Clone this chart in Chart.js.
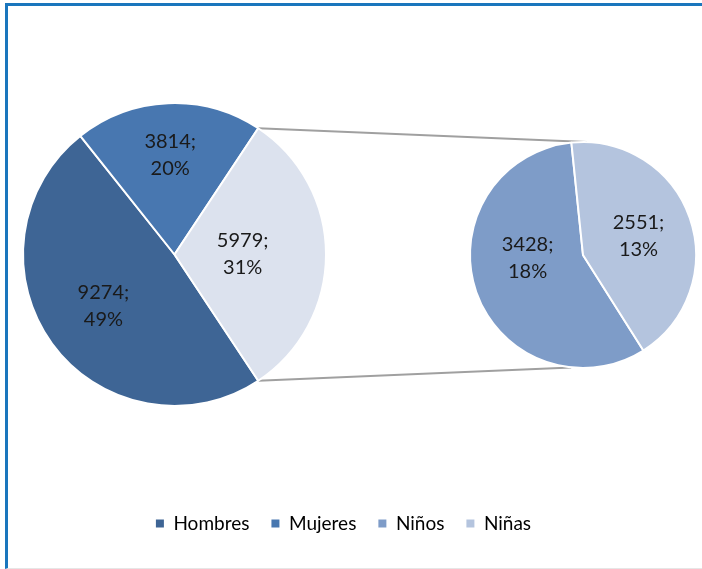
<!DOCTYPE html>
<html><head><meta charset="utf-8">
<script src="https://cdn.jsdelivr.net/npm/chart.js@4/dist/chart.umd.min.js"></script>
<style>
html,body{margin:0;padding:0;background:#fff;}
#frame{position:absolute;left:5px;top:3px;width:697px;height:566px;border-top:3px solid #1a76bd;border-left:3px solid #1a76bd;border-bottom:1px solid #e6e6e6;box-sizing:border-box;}
#wrap{position:absolute;left:0;top:0;right:0;bottom:0;}
</style></head><body>
<div id="frame"><div id="wrap"><canvas id="c"></canvas></div></div>
<script>
// ---- data ----
const mainLabels = ['Hombres', 'Mujeres', 'Otros'];
const mainValues = [9274, 3814, 5979];
const childLabels = ['Niños', 'Niñas'];
const childValues = [3428, 2551];
const legendLabels = ['Hombres', 'Mujeres', 'Niños', 'Niñas'];

// ---- style ----
const mainColors = ['#3e6595', '#4877b0', '#dce2ee'];
const childColors = ['#7e9cc8', '#b4c4de'];
const legendColors = ['#3e6595', '#4877b0', '#7e9cc8', '#b4c4de'];
const geometry = [
  { x: 166.5, y: 248.5, r: 151.5, labelR: [0.58, 0.66, 0.45], nudge: [[0, 0], [0, 0], [0, 0]] },
  { x: 575, y: 249, r: 113, labelR: [0.50, 0.52], nudge: [[-2, -15], [0, 0]] }
];
const textColor = '#1a1a1a';
const labelFont = '20px Lato';

const total = mainValues.reduce((a, b) => a + b, 0);
const mainRotation = 90 + (mainValues[2] / total) * 180;
const childRotation = 147.7;

const pieOfPie = {
  id: 'pieOfPie',
  afterDatasetsUpdate(chart) {
    chart.data.datasets.forEach((ds, i) => {
      const g = geometry[i];
      chart.getDatasetMeta(i).data.forEach(arc => {
        arc.x = g.x; arc.y = g.y; arc.innerRadius = 0; arc.outerRadius = g.r;
      });
    });
  },
  beforeDatasetsDraw(chart) {
    const ctx = chart.ctx;
    const other = chart.getDatasetMeta(0).data[2];
    const g2 = geometry[1];
    const deg = Math.PI / 180;
    const p1 = [other.x + other.outerRadius * Math.cos(other.startAngle), other.y + other.outerRadius * Math.sin(other.startAngle)];
    const p2 = [other.x + other.outerRadius * Math.cos(other.endAngle), other.y + other.outerRadius * Math.sin(other.endAngle)];
    const q1 = [g2.x + g2.r * Math.cos(-88 * deg), g2.y + g2.r * Math.sin(-88 * deg)];
    const q2 = [g2.x + g2.r * Math.cos(96 * deg), g2.y + g2.r * Math.sin(96 * deg)];
    ctx.save();
    ctx.strokeStyle = '#a0a0a0';
    ctx.lineWidth = 2;
    ctx.beginPath();
    ctx.moveTo(p1[0], p1[1]); ctx.lineTo(q1[0], q1[1]);
    ctx.moveTo(p2[0], p2[1]); ctx.lineTo(q2[0], q2[1]);
    ctx.stroke();
    ctx.restore();
  },
  afterDatasetsDraw(chart) {
    const ctx = chart.ctx;
    ctx.save();
    ctx.font = labelFont;
    ctx.fillStyle = textColor;
    ctx.textAlign = 'center';
    ctx.textBaseline = 'middle';
    chart.data.datasets.forEach((ds, i) => {
      const g = geometry[i];
      chart.getDatasetMeta(i).data.forEach((arc, j) => {
        const mid = (arc.startAngle + arc.endAngle) / 2;
        const rr = g.labelR[j] * arc.outerRadius;
        const x = arc.x + rr * Math.cos(mid) + g.nudge[j][0];
        const y = arc.y + rr * Math.sin(mid) + g.nudge[j][1];
        const v = ds.data[j];
        const pct = Math.round(v / total * 100);
        ctx.fillText(v + ';', x, y - 13.5);
        ctx.fillText(pct + '%', x, y + 13.5);
      });
    });
    ctx.restore();
  }
};

new Chart(document.getElementById('c'), {
  type: 'pie',
  data: {
    labels: mainLabels,
    datasets: [
      { data: mainValues, backgroundColor: mainColors, borderColor: '#ffffff', borderWidth: 2, rotation: mainRotation },
      { data: childValues, backgroundColor: childColors, borderColor: '#ffffff', borderWidth: 2, rotation: childRotation }
    ]
  },
  options: {
    responsive: true,
    maintainAspectRatio: false,
    animation: false,
    events: [],
    layout: { padding: { bottom: 25, right: 23 } },
    plugins: {
      tooltip: { enabled: false },
      legend: {
        position: 'bottom',
        labels: {
          boxWidth: 8, boxHeight: 8, padding: 22,
          color: textColor,
          font: { family: 'Lato', size: 19 },
          generateLabels: () => legendLabels.map((t, k) => ({
            text: t, fillStyle: legendColors[k], strokeStyle: legendColors[k], lineWidth: 0, hidden: false, index: k
          }))
        }
      }
    }
  },
  plugins: [pieOfPie]
});
</script>
</body></html>
